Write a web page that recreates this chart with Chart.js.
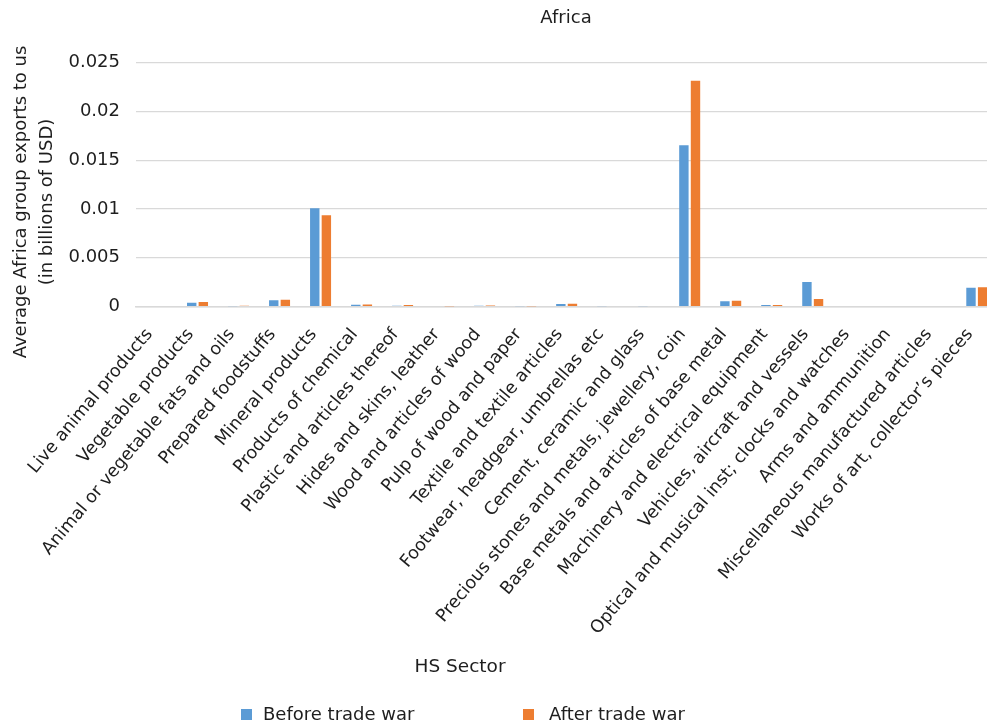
<!DOCTYPE html>
<html>
<head>
<meta charset="utf-8">
<title>Africa</title>
<script src="https://cdn.jsdelivr.net/npm/chart.js@4/dist/chart.umd.min.js"></script>
<style>
  html, body { margin: 0; padding: 0; background: #fff; overflow: hidden; }
  #wrap { position: relative; width: 1010px; height: 726px; font-family: "DejaVu Sans", sans-serif; color: #1e1e1e; }
  #chart { position: absolute; left: 0; top: 0; }
  .txt { position: absolute; white-space: nowrap; line-height: 1; }
  #title { left: 466px; width: 200px; top: 8px; text-align: center; font-size: 18px; }
  #xtitle { left: 360px; width: 200px; top: 657px; text-align: center; font-size: 18.5px; }
  #ytitle { left: 33px; top: 202px; width: 420px; font-size: 18px; line-height: 26px; text-align: center;
            transform: translate(-50%, -50%) rotate(-90deg); white-space: normal; }
  .sw { position: absolute; width: 11px; height: 11px; }
  .lg { font-size: 18px; }
</style>
</head>
<body>
<div id="wrap">
  <canvas id="chart" width="1010" height="726"></canvas>
  <div id="title" class="txt">Africa</div>
  <div id="ytitle" class="txt">Average Africa group exports to us<br>(in billions of USD)</div>
  <div id="xtitle" class="txt">HS Sector</div>
  <div class="sw" style="left:241px; top:709px; background:#5B9BD5"></div>
  <div class="txt lg" style="left:263px; top:705px;">Before trade war</div>
  <div class="sw" style="left:523px; top:709px; background:#ED7D31"></div>
  <div class="txt lg" style="left:549px; top:705px;">After trade war</div>
</div>
<script>
// HS sectors shown along the x axis
const categories = [
  "Live animal products",
  "Vegetable products",
  "Animal or vegetable fats and oils",
  "Prepared foodstuffs",
  "Mineral products",
  "Products of chemical",
  "Plastic and articles thereof",
  "Hides and skins, leather",
  "Wood and articles of wood",
  "Pulp of wood and paper",
  "Textile and textile articles",
  "Footwear, headgear, umbrellas etc",
  "Cement, ceramic and glass",
  "Precious stones and metals, jewellery, coin",
  "Base metals and articles of base metal",
  "Machinery and electrical equipment",
  "Vehicles, aircraft and vessels",
  "Optical and musical inst; clocks and watches",
  "Arms and ammunition",
  "Miscellaneous manufactured articles",
  "Works of art, collector\u2019s pieces"
];

// Average exports to the US, billions of USD
const beforeTradeWar = [
  0, 0.00038, 0.00002, 0.00065, 0.01006, 0.00017, 0.00007, 0, 0.00008, 0.00002,
  0.00026, 0.00003, 0.00003, 0.01652, 0.00055, 0.00016, 0.00251, 0, 0, 0, 0.00191
];
const afterTradeWar = [
  0, 0.00045, 0.00008, 0.00069, 0.00934, 0.00021, 0.00016, 0.00001, 0.00009, 0.00001,
  0.00029, 0.00006, 0.00005, 0.02314, 0.00058, 0.00015, 0.00077, 0, 0, 0, 0.00198
];

// Value axis ticks
const yTicks = [0, 0.005, 0.01, 0.015, 0.02, 0.025];

const fontFamily = "'DejaVu Sans', sans-serif";

new Chart(document.getElementById("chart"), {
  type: "bar",
  data: {
    labels: categories,
    datasets: [
      { label: "Before trade war", data: beforeTradeWar, backgroundColor: "#5B9BD5",
        categoryPercentage: 0.566, barPercentage: 0.81 },
      { label: "After trade war", data: afterTradeWar, backgroundColor: "#ED7D31",
        categoryPercentage: 0.566, barPercentage: 0.81 }
    ]
  },
  options: {
    responsive: false,
    animation: false,
    layout: { padding: { top: 62.5, right: 12.7, bottom: 0, left: 0 } },
    plugins: { legend: { display: false }, title: { display: false }, tooltip: { enabled: false } },
    scales: {
      x: {
        grid: { display: false },
        border: { display: true, color: "#d9d9d9", width: 1.5 },
        ticks: { autoSkip: false, minRotation: 50, maxRotation: 50, labelOffset: -7,
                 font: { family: fontFamily, size: 17.5 }, color: "#1e1e1e", padding: 10 },
        afterFit: (s) => { s.height = 419.5; }
      },
      y: {
        min: yTicks[0],
        max: yTicks[yTicks.length - 1],
        afterBuildTicks: (s) => { s.ticks = yTicks.map((v) => ({ value: v })); },
        grid: { color: "#d9d9d9", lineWidth: 1.2, drawTicks: false },
        border: { display: false },
        ticks: { font: { family: fontFamily, size: 18 }, color: "#1e1e1e", padding: 16,
                 callback: (v) => String(v) },
        afterFit: (s) => { s.width = 136; }
      }
    }
  }
});
</script>
</body>
</html>
